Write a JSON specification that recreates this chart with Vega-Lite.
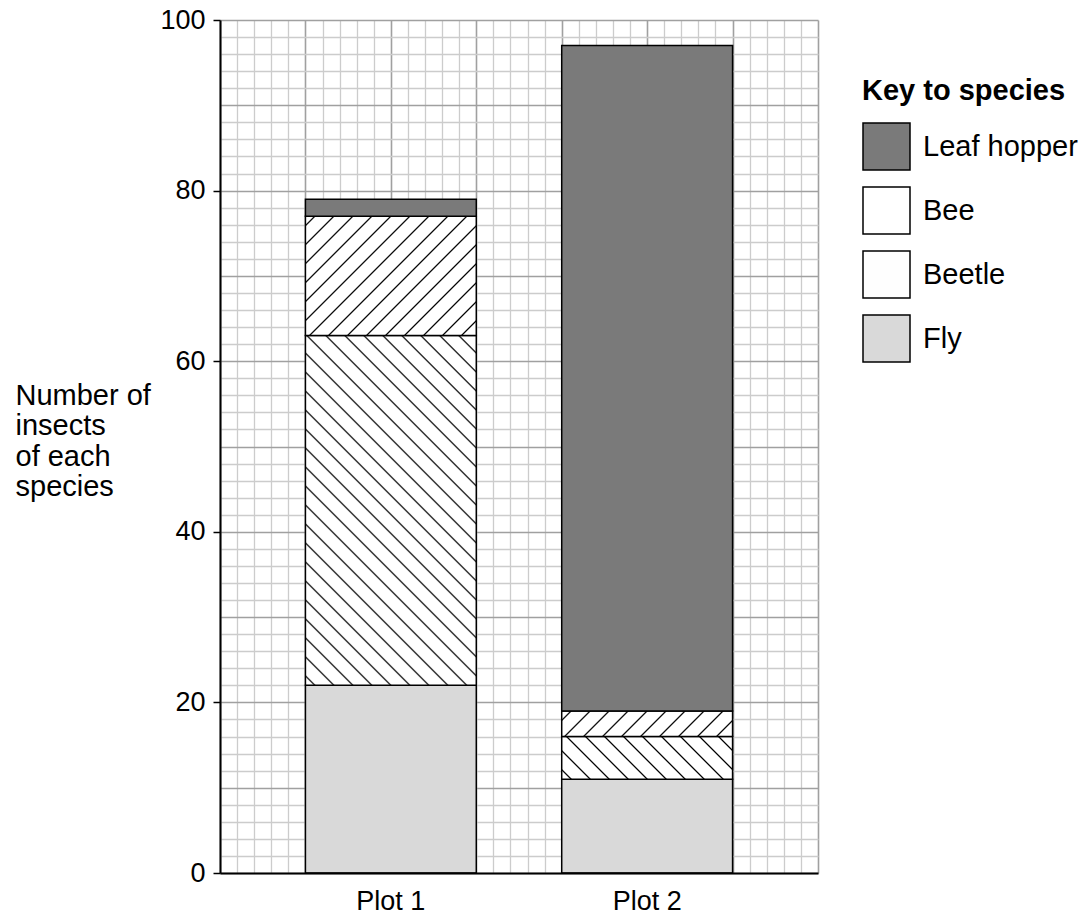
{
  "$schema": "https://vega.github.io/schema/vega-lite/v6.json",
  "width": 598,
  "height": 853,
  "autosize": {"type": "none"},
  "padding": {"left": 220, "top": 20, "right": 271, "bottom": 44},
  "background": "white",
  "config": {
    "font": "Liberation Sans",
    "view": {"stroke": null},
    "axis": {"labelColor": "#000", "titleColor": "#000"}
  },
  "data": {
    "values": [
      {"plot": "Plot 1", "species": "Fly", "count": 22},
      {"plot": "Plot 1", "species": "Beetle", "count": 41},
      {"plot": "Plot 1", "species": "Bee", "count": 14},
      {"plot": "Plot 1", "species": "Leaf hopper", "count": 2},
      {"plot": "Plot 2", "species": "Fly", "count": 11},
      {"plot": "Plot 2", "species": "Beetle", "count": 5},
      {"plot": "Plot 2", "species": "Bee", "count": 3},
      {"plot": "Plot 2", "species": "Leaf hopper", "count": 78}
    ]
  },
  "resolve": {
    "scale": {"x": "independent", "y": "independent"},
    "axis": {"x": "independent", "y": "independent"}
  },
  "layer": [
    {
      "mark": {"type": "point", "opacity": 0},
      "encoding": {
        "x": {
          "datum": 0, "type": "quantitative",
          "scale": {"domain": [0, 7], "nice": false, "zero": false},
          "axis": {
            "orient": "top", "title": null, "labels": false, "ticks": false, "domain": false,
            "grid": true, "zindex": 0,
            "values": [0,0.2,0.4,0.6,0.8,1,1.2,1.4,1.6,1.8,2,2.2,2.4,2.6,2.8,3,3.2,3.4,3.6,3.8,4,4.2,4.4,4.6,4.8,5,5.2,5.4,5.6,5.8,6,6.2,6.4,6.6,6.8,7],
            "gridColor": {"condition": {"test": "abs(datum.value - round(datum.value)) < 0.001", "value": "#a0a0a0"}, "value": "#cccccc"},
            "gridWidth": {"condition": {"test": "abs(datum.value - round(datum.value)) < 0.001", "value": 1.6}, "value": 1.3}
          }
        },
        "y": {
          "datum": 0, "type": "quantitative",
          "scale": {"domain": [0, 100], "nice": false},
          "axis": {
            "orient": "right", "title": null, "labels": false, "ticks": false, "domain": false,
            "grid": true, "zindex": 0,
            "values": [0,2,4,6,8,10,12,14,16,18,20,22,24,26,28,30,32,34,36,38,40,42,44,46,48,50,52,54,56,58,60,62,64,66,68,70,72,74,76,78,80,82,84,86,88,90,92,94,96,98,100],
            "gridColor": {"condition": {"test": "datum.value % 10 === 0", "value": "#a0a0a0"}, "value": "#cccccc"},
            "gridWidth": {"condition": {"test": "datum.value % 10 === 0", "value": 1.6}, "value": 1.3}
          }
        }
      }
    },
    {
      "transform": [
        {"calculate": "indexof(['Fly', 'Beetle', 'Bee', 'Leaf hopper'], datum.species)", "as": "stack_order"}
      ],
      "mark": {"type": "bar", "stroke": "#000", "strokeWidth": 1.5},
      "encoding": {
        "x": {
          "field": "plot", "type": "nominal",
          "scale": {"paddingInner": 0.333333, "paddingOuter": 0.333333},
          "axis": {
            "orient": "bottom", "title": null, "labelAngle": 0, "labelFontSize": 27, "labelPadding": 15,
            "ticks": false, "domain": true, "domainColor": "#000", "domainWidth": 2, "grid": false, "zindex": 1
          }
        },
        "y": {
          "field": "count", "type": "quantitative", "stack": "zero",
          "scale": {"domain": [0, 100], "nice": false},
          "axis": {
            "orient": "left", "values": [0, 20, 40, 60, 80, 100], "grid": false, "zindex": 1,
            "domain": true, "domainColor": "#000", "domainWidth": 2,
            "ticks": true, "tickColor": "#000", "tickSize": 7, "tickWidth": 1.5,
            "labelFontSize": 27, "labelPadding": 8,
            "title": ["Number of", "insects", "of each", "species"],
            "titleAngle": 0, "titleAlign": "left", "titleBaseline": "alphabetic",
            "titleX": -205, "titleY": 384, "titleLineHeight": 30.5,
            "titleFontSize": 29, "titleFontWeight": "normal"
          }
        },
        "order": {"field": "stack_order", "type": "quantitative", "sort": "ascending"},
        "fill": {
          "condition": [
            {"test": "datum.plot === 'Plot 1' && datum.species === 'Bee'",
             "value": {"gradient": "linear", "x1": 0, "y1": 0, "x2": 1.1414, "y2": 0.7977, "stops": [
              {"offset": 0, "color": "#fff"},
              {"offset": 0.0269, "color": "#fff"},{"offset": 0.0327, "color": "#000"},{"offset": 0.0385, "color": "#fff"},
              {"offset": 0.0923, "color": "#fff"},{"offset": 0.0981, "color": "#000"},{"offset": 0.1039, "color": "#fff"},
              {"offset": 0.1578, "color": "#fff"},{"offset": 0.1636, "color": "#000"},{"offset": 0.1694, "color": "#fff"},
              {"offset": 0.2232, "color": "#fff"},{"offset": 0.2290, "color": "#000"},{"offset": 0.2348, "color": "#fff"},
              {"offset": 0.2886, "color": "#fff"},{"offset": 0.2944, "color": "#000"},{"offset": 0.3002, "color": "#fff"},
              {"offset": 0.3541, "color": "#fff"},{"offset": 0.3599, "color": "#000"},{"offset": 0.3657, "color": "#fff"},
              {"offset": 0.4195, "color": "#fff"},{"offset": 0.4253, "color": "#000"},{"offset": 0.4311, "color": "#fff"},
              {"offset": 0.4849, "color": "#fff"},{"offset": 0.4907, "color": "#000"},{"offset": 0.4965, "color": "#fff"},
              {"offset": 0.5503, "color": "#fff"},{"offset": 0.5561, "color": "#000"},{"offset": 0.5619, "color": "#fff"},
              {"offset": 0.6158, "color": "#fff"},{"offset": 0.6216, "color": "#000"},{"offset": 0.6274, "color": "#fff"},
              {"offset": 0.6812, "color": "#fff"},{"offset": 0.6870, "color": "#000"},{"offset": 0.6928, "color": "#fff"},
              {"offset": 0.7466, "color": "#fff"},{"offset": 0.7524, "color": "#000"},{"offset": 0.7582, "color": "#fff"},
              {"offset": 0.8121, "color": "#fff"},{"offset": 0.8179, "color": "#000"},{"offset": 0.8237, "color": "#fff"},
              {"offset": 0.8775, "color": "#fff"},{"offset": 0.8833, "color": "#000"},{"offset": 0.8891, "color": "#fff"},
              {"offset": 0.9429, "color": "#fff"},{"offset": 0.9487, "color": "#000"},{"offset": 0.9545, "color": "#fff"},
              {"offset": 1, "color": "#fff"}
             ]}},
            {"test": "datum.plot === 'Plot 1' && datum.species === 'Beetle'",
             "value": {"gradient": "linear", "x1": 0, "y1": 1, "x2": 0.5871, "y2": -0.2017, "stops": [
              {"offset": 0, "color": "#fff"},
              {"offset": 0.0149, "color": "#fff"},{"offset": 0.0182, "color": "#000"},{"offset": 0.0215, "color": "#fff"},
              {"offset": 0.0514, "color": "#fff"},{"offset": 0.0547, "color": "#000"},{"offset": 0.0580, "color": "#fff"},
              {"offset": 0.0879, "color": "#fff"},{"offset": 0.0912, "color": "#000"},{"offset": 0.0945, "color": "#fff"},
              {"offset": 0.1243, "color": "#fff"},{"offset": 0.1276, "color": "#000"},{"offset": 0.1309, "color": "#fff"},
              {"offset": 0.1608, "color": "#fff"},{"offset": 0.1641, "color": "#000"},{"offset": 0.1674, "color": "#fff"},
              {"offset": 0.1973, "color": "#fff"},{"offset": 0.2006, "color": "#000"},{"offset": 0.2039, "color": "#fff"},
              {"offset": 0.2338, "color": "#fff"},{"offset": 0.2371, "color": "#000"},{"offset": 0.2404, "color": "#fff"},
              {"offset": 0.2703, "color": "#fff"},{"offset": 0.2736, "color": "#000"},{"offset": 0.2769, "color": "#fff"},
              {"offset": 0.3067, "color": "#fff"},{"offset": 0.3100, "color": "#000"},{"offset": 0.3133, "color": "#fff"},
              {"offset": 0.3432, "color": "#fff"},{"offset": 0.3465, "color": "#000"},{"offset": 0.3498, "color": "#fff"},
              {"offset": 0.3797, "color": "#fff"},{"offset": 0.3830, "color": "#000"},{"offset": 0.3863, "color": "#fff"},
              {"offset": 0.4162, "color": "#fff"},{"offset": 0.4195, "color": "#000"},{"offset": 0.4228, "color": "#fff"},
              {"offset": 0.4527, "color": "#fff"},{"offset": 0.4560, "color": "#000"},{"offset": 0.4593, "color": "#fff"},
              {"offset": 0.4891, "color": "#fff"},{"offset": 0.4924, "color": "#000"},{"offset": 0.4957, "color": "#fff"},
              {"offset": 0.5256, "color": "#fff"},{"offset": 0.5289, "color": "#000"},{"offset": 0.5322, "color": "#fff"},
              {"offset": 0.5621, "color": "#fff"},{"offset": 0.5654, "color": "#000"},{"offset": 0.5687, "color": "#fff"},
              {"offset": 0.5986, "color": "#fff"},{"offset": 0.6019, "color": "#000"},{"offset": 0.6052, "color": "#fff"},
              {"offset": 0.6351, "color": "#fff"},{"offset": 0.6384, "color": "#000"},{"offset": 0.6417, "color": "#fff"},
              {"offset": 0.6715, "color": "#fff"},{"offset": 0.6748, "color": "#000"},{"offset": 0.6781, "color": "#fff"},
              {"offset": 0.7080, "color": "#fff"},{"offset": 0.7113, "color": "#000"},{"offset": 0.7146, "color": "#fff"},
              {"offset": 0.7445, "color": "#fff"},{"offset": 0.7478, "color": "#000"},{"offset": 0.7511, "color": "#fff"},
              {"offset": 0.7810, "color": "#fff"},{"offset": 0.7843, "color": "#000"},{"offset": 0.7876, "color": "#fff"},
              {"offset": 0.8175, "color": "#fff"},{"offset": 0.8208, "color": "#000"},{"offset": 0.8241, "color": "#fff"},
              {"offset": 0.8539, "color": "#fff"},{"offset": 0.8572, "color": "#000"},{"offset": 0.8605, "color": "#fff"},
              {"offset": 0.8904, "color": "#fff"},{"offset": 0.8937, "color": "#000"},{"offset": 0.8970, "color": "#fff"},
              {"offset": 0.9269, "color": "#fff"},{"offset": 0.9302, "color": "#000"},{"offset": 0.9335, "color": "#fff"},
              {"offset": 0.9634, "color": "#fff"},{"offset": 0.9667, "color": "#000"},{"offset": 0.9700, "color": "#fff"},
              {"offset": 1, "color": "#fff"}
             ]}},
            {"test": "datum.plot === 'Plot 2' && datum.species === 'Bee'",
             "value": {"gradient": "linear", "x1": 0, "y1": 0, "x2": 1.1245, "y2": 0.1684, "stops": [
              {"offset": 0, "color": "#fff"},
              {"offset": 0.0397, "color": "#fff"},{"offset": 0.0483, "color": "#000"},{"offset": 0.0569, "color": "#fff"},
              {"offset": 0.1364, "color": "#fff"},{"offset": 0.1450, "color": "#000"},{"offset": 0.1536, "color": "#fff"},
              {"offset": 0.2331, "color": "#fff"},{"offset": 0.2417, "color": "#000"},{"offset": 0.2503, "color": "#fff"},
              {"offset": 0.3298, "color": "#fff"},{"offset": 0.3384, "color": "#000"},{"offset": 0.3470, "color": "#fff"},
              {"offset": 0.4264, "color": "#fff"},{"offset": 0.4350, "color": "#000"},{"offset": 0.4436, "color": "#fff"},
              {"offset": 0.5231, "color": "#fff"},{"offset": 0.5317, "color": "#000"},{"offset": 0.5403, "color": "#fff"},
              {"offset": 0.6198, "color": "#fff"},{"offset": 0.6284, "color": "#000"},{"offset": 0.6370, "color": "#fff"},
              {"offset": 0.7165, "color": "#fff"},{"offset": 0.7251, "color": "#000"},{"offset": 0.7337, "color": "#fff"},
              {"offset": 0.8131, "color": "#fff"},{"offset": 0.8217, "color": "#000"},{"offset": 0.8303, "color": "#fff"},
              {"offset": 0.9098, "color": "#fff"},{"offset": 0.9184, "color": "#000"},{"offset": 0.9270, "color": "#fff"},
              {"offset": 1, "color": "#fff"}
             ]}},
            {"test": "datum.plot === 'Plot 2' && datum.species === 'Beetle'",
             "value": {"gradient": "linear", "x1": 0, "y1": 1, "x2": 1.1763, "y2": 0.7064, "stops": [
              {"offset": 0, "color": "#fff"},
              {"offset": 0.0366, "color": "#fff"},{"offset": 0.0445, "color": "#000"},{"offset": 0.0524, "color": "#fff"},
              {"offset": 0.1256, "color": "#fff"},{"offset": 0.1335, "color": "#000"},{"offset": 0.1414, "color": "#fff"},
              {"offset": 0.2145, "color": "#fff"},{"offset": 0.2224, "color": "#000"},{"offset": 0.2303, "color": "#fff"},
              {"offset": 0.3035, "color": "#fff"},{"offset": 0.3114, "color": "#000"},{"offset": 0.3193, "color": "#fff"},
              {"offset": 0.3925, "color": "#fff"},{"offset": 0.4004, "color": "#000"},{"offset": 0.4083, "color": "#fff"},
              {"offset": 0.4814, "color": "#fff"},{"offset": 0.4893, "color": "#000"},{"offset": 0.4972, "color": "#fff"},
              {"offset": 0.5704, "color": "#fff"},{"offset": 0.5783, "color": "#000"},{"offset": 0.5862, "color": "#fff"},
              {"offset": 0.6594, "color": "#fff"},{"offset": 0.6673, "color": "#000"},{"offset": 0.6752, "color": "#fff"},
              {"offset": 0.7483, "color": "#fff"},{"offset": 0.7562, "color": "#000"},{"offset": 0.7641, "color": "#fff"},
              {"offset": 0.8373, "color": "#fff"},{"offset": 0.8452, "color": "#000"},{"offset": 0.8531, "color": "#fff"},
              {"offset": 0.9263, "color": "#fff"},{"offset": 0.9342, "color": "#000"},{"offset": 0.9421, "color": "#fff"},
              {"offset": 1, "color": "#fff"}
             ]}}
          ],
          "field": "species", "type": "nominal",
          "scale": {
            "domain": ["Leaf hopper", "Bee", "Beetle", "Fly"],
            "range": ["#7a7a7a", "#ffffff", "#fefefe", "#d9d9d9"]
          },
          "legend": {
            "orient": "none", "legendX": 642, "legendY": 57, "padding": 0,
            "title": "Key to species", "titleFontSize": 29, "titleFontWeight": "bold", "titleColor": "#000",
            "titlePadding": 16, "titleLimit": 0, "labelLimit": 0,
            "symbolType": "square", "symbolSize": 2209, "symbolStrokeColor": "#000", "symbolStrokeWidth": 1.5,
            "labelFontSize": 29, "labelColor": "#000", "labelOffset": 12, "rowPadding": 11,
            "encode": {
              "symbols": {
                "update": {
                  "stroke": {"value": "#000"},
                  "strokeWidth": {"value": 1.5}
                }
              }
            }
          }
        }
      }
    }
  ]
}
